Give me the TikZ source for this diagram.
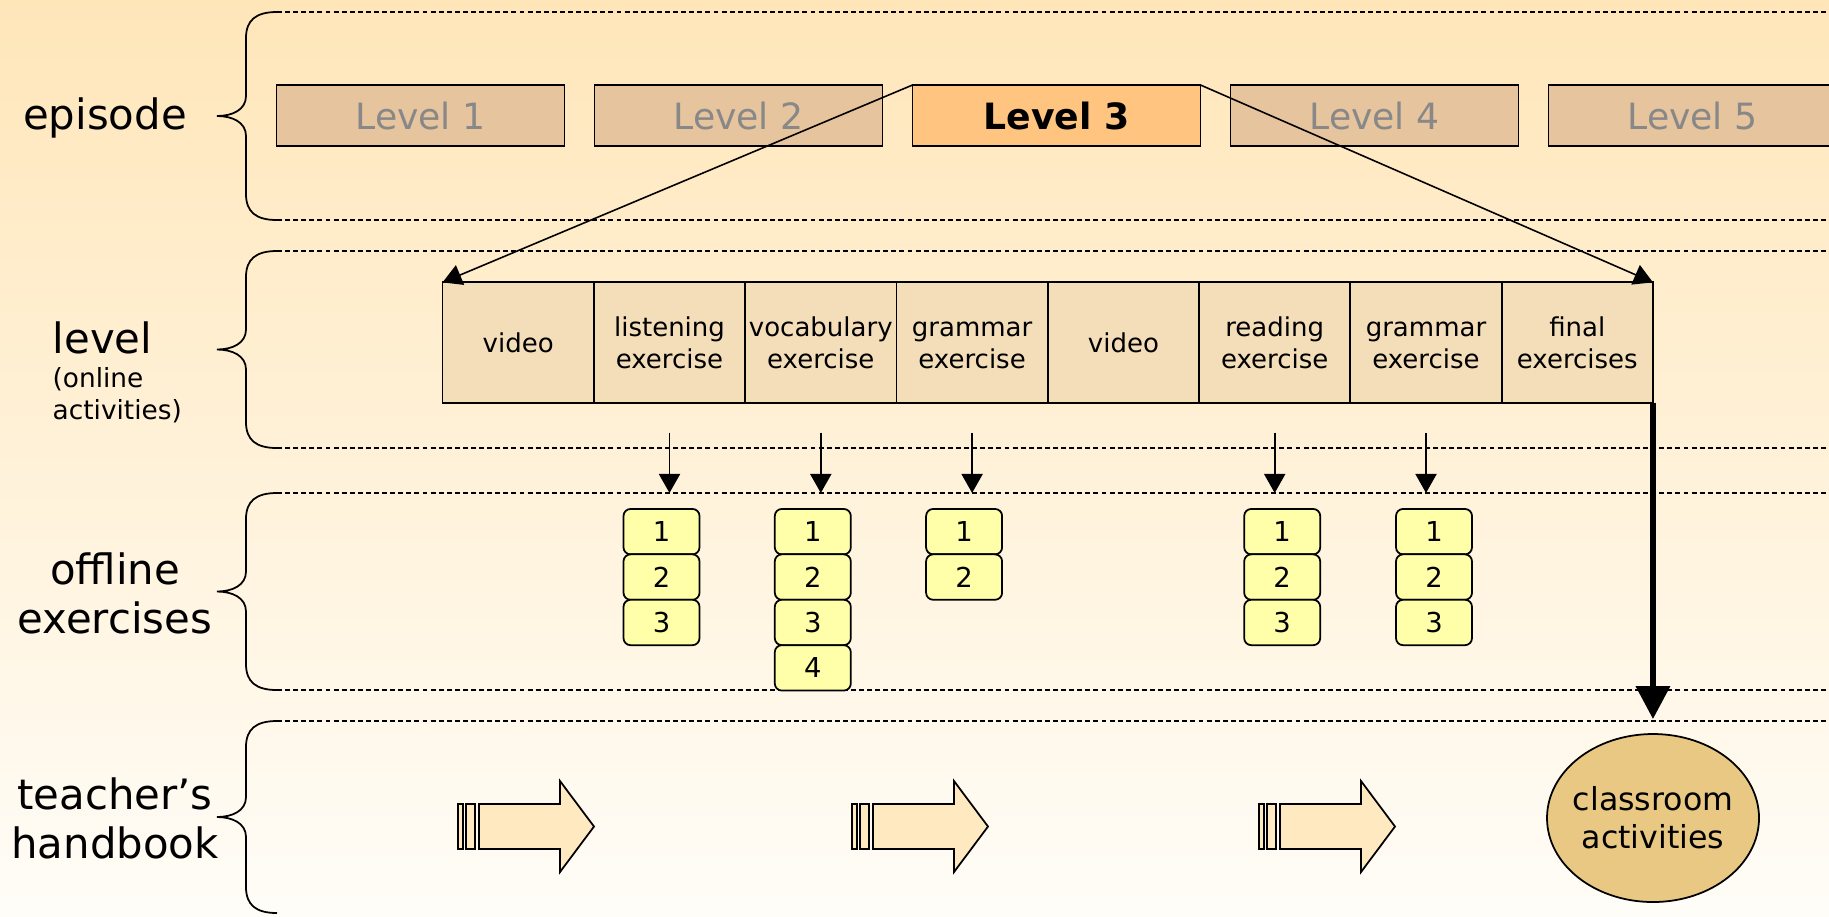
\documentclass[tikz,border=0pt]{standalone}
\usepackage{fontspec}
\setmainfont{DejaVu Sans}
\usetikzlibrary{positioning,shapes.geometric,arrows.meta}
\definecolor{bgtop}{RGB}{255,230,185}
\definecolor{bgbot}{RGB}{255,253,248}
\definecolor{lvfill}{RGB}{230,196,157}
\definecolor{lvthree}{RGB}{255,196,128}
\definecolor{lvtext}{RGB}{136,136,136}
\definecolor{cellfill}{RGB}{243,222,185}
\definecolor{exfill}{RGB}{255,255,170}
\definecolor{hbfill}{RGB}{255,233,192}
\definecolor{clfill}{RGB}{233,200,131}
\tikzset{
  rowlabel/.style={font=\fontsize{11.9}{14}\selectfont, align=center, inner sep=0pt},
  levelbox/.style={draw, line width=0.55pt, fill=lvfill, text=lvtext, minimum width=28.8mm, minimum height=6.1mm, inner sep=0pt, outer sep=0pt, font=\fontsize{10.3}{12}\selectfont},
  cell/.style={draw, line width=0.5pt, fill=cellfill, minimum width=15.13mm, minimum height=12.03mm, inner sep=0pt, outer sep=0pt, align=center, font=\fontsize{7.4}{9}\selectfont},
  exbox/.style={draw, line width=0.5pt, fill=exfill, rounded corners=2pt, minimum width=7.6mm, minimum height=4.54mm, inner sep=0pt, outer sep=0pt, font=\fontsize{7.8}{9}\selectfont},
  band/.style={dash pattern=on 1.4pt off 0.9pt, line width=0.45pt},
  brace/.style={line width=0.5pt},
  thin arrow/.style={-{Triangle[length=5.4pt,width=6pt]}, line width=0.45pt},
}
\begin{document}
\begin{tikzpicture}[x=0.1mm,y=-0.1mm]
\shade[top color=bgtop, bottom color=bgbot] (0,0) rectangle (1829,916);
\useasboundingbox (0,0) rectangle (1829,916);

% bands with their braces
\foreach \t/\b in {12/220, 251/448, 493/690, 721/913} {
  \pgfmathsetmacro{\m}{(\t+\b)/2}
  \draw[brace] (277,\t) .. controls (256,\t) and (246,\t+8) .. (246,\t+26) -- (246,\m-20)
    .. controls (246,\m-6) and (232,\m) .. (217,\m) .. controls (232,\m) and (246,\m+6) .. (246,\m+20)
    -- (246,\b-26) .. controls (246,\b-8) and (256,\b) .. (277,\b);
  \draw[band] (277,\t) -- (1829,\t);
}
\foreach \b in {220,448,690}
  \draw[band] (277,\b) -- (1829,\b);

% row labels
\node[rowlabel] (episode) at (105,118) {episode};
\node[align=left, inner sep=0pt, anchor=west, font=\fontsize{7.5}{9.1}\selectfont] (level) at (52,372) {{\fontsize{11.9}{14}\selectfont level}\\[0.65pt](online\\activities)};
\node[rowlabel] (offline) at (115,593) {offline\\exercises};
\node[rowlabel] (teacher) at (115,818) {teacher’s\\handbook};

% episode
\node[levelbox] (lv1) at (420.5,115.5) {Level 1};
\node[levelbox, right=3mm of lv1] (lv2) {Level 2};
\node[levelbox, right=3mm of lv2, fill=lvthree, text=black, font=\bfseries\fontsize{10.3}{12}\selectfont] (lv3) {Level 3};
\node[levelbox, right=3mm of lv3] (lv4) {Level 4};
\node[levelbox, right=3mm of lv4] (lv5) {Level 5};

% level
\node[cell] (vid1) at (518.2,342.5) {video};
\node[cell, right=0pt of vid1] (listen) {listening\\exercise};
\node[cell, right=0pt of listen] (vocab) {vocabulary\\exercise};
\node[cell, right=0pt of vocab] (gram1) {\vphantom{l}grammar\\exercise};
\node[cell, right=0pt of gram1] (vid2) {video};
\node[cell, right=0pt of vid2] (read) {reading\\exercise};
\node[cell, right=0pt of read] (gram2) {\vphantom{l}grammar\\exercise};
\node[cell, right=0pt of gram2] (final) {final\\exercises};

\draw[thin arrow] (lv3.north west) -- (vid1.north west);
\draw[thin arrow] (lv3.north east) -- (final.north east);

% offline exercises
\foreach \c/\n/\dx in {listen/3/-0.8, vocab/4/-0.8, gram1/2/-0.8, read/3/0.75, gram2/3/0.8} {
  \foreach \i in {1,...,\n}
    \node[exbox, anchor=north, yshift={-10.63mm-(\i-1)*4.54mm}] (\c-\i) at ([xshift=\dx mm]\c.south) {\i};
  \draw[thin arrow, shorten <=3mm, shorten >=1.6mm] (\c.south) -- (\c.south |- \c-1.north);
}

% teacher's handbook
\foreach \x in {458,852,1259} {
  \draw[fill=hbfill, line width=0.5pt] (\x,804) rectangle (\x+5,849);
  \draw[fill=hbfill, line width=0.5pt] (\x+8,804) rectangle (\x+17,849);
  \draw[fill=hbfill, line width=0.5pt] (\x+21,804) -- (\x+102,804) -- (\x+102,781) -- (\x+136,826.5)
    -- (\x+102,872) -- (\x+102,849) -- (\x+21,849) -- cycle;
}
\node[draw, ellipse, fill=clfill, line width=0.5pt, minimum width=21.2mm, minimum height=16.8mm, inner xsep=-0.6mm, inner ysep=0pt, align=center, font=\fontsize{9}{10.9}\selectfont] (class) at (1653,818) {classroom\\activities};

\draw[line width=1.85pt, -{Triangle[length=9.4pt,width=9.4pt]}, shorten >=1.4mm] (final.south east) -- (final.south east |- class.north);
\end{tikzpicture}
\end{document}
